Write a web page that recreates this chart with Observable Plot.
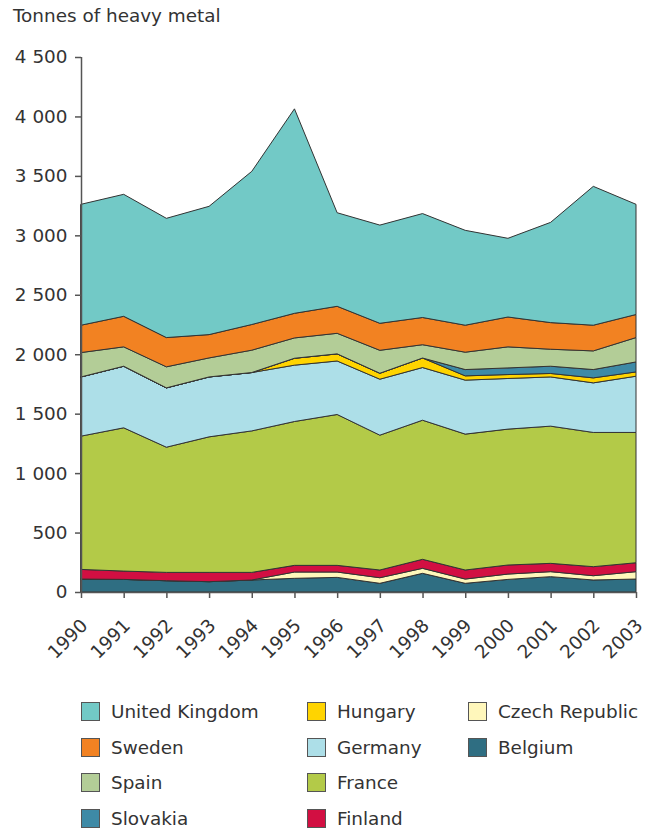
<!DOCTYPE html>
<html>
<head>
<meta charset="utf-8">
<script src="https://cdn.jsdelivr.net/npm/d3@7"></script>
<script src="https://cdn.jsdelivr.net/npm/@observablehq/plot@0.6"></script>
<style>
  body { margin: 0; background: #fff; font-family: "DejaVu Sans", Verdana, sans-serif; color: #333; }
  #wrap { position: relative; width: 648px; height: 831px; }
  #title { position: absolute; left: 13px; top: 5px; font-size: 18.4px; color: #333; white-space: nowrap; }
  #chart { position: absolute; left: 0; top: 0; }
  #legend { position: absolute; left: 0; top: 0; width: 648px; }
  .item { position: absolute; display: flex; align-items: center; font-size: 18.4px; color: #333; white-space: nowrap; }
  .sw { border: 1px solid #555; box-sizing: border-box; margin-right: 11px; width: 19px; height: 19px; }
</style>
</head>
<body>
<div id="wrap">
  <div id="chart"></div>
  <div id="title">Tonnes of heavy metal</div>
  <div id="legend"></div>
</div>
<script>
const years = [1990,1991,1992,1993,1994,1995,1996,1997,1998,1999,2000,2001,2002,2003];

// Stack order, bottom to top
const countries = ["Belgium","Czech Republic","Finland","France","Germany","Hungary","Slovakia","Spain","Sweden","United Kingdom"];

const belgium  = [109,106,95,87,101,115,123,73,157,73,106,129,101,109];
const czech    = [0,0,0,0,0,53,45,47,42,36,45,42,36,62];
const finland  = [81,70,70,78,64,56,56,65,76,76,76,70,76,75];
const france   = [1121,1205,1053,1140,1190,1210,1269,1134,1170,1143,1143,1154,1129,1096];
const germany  = [498,518,499,504,491,474,450,471,443,454,426,414,417,473];
const hungary  = [0,0,0,0,0,58,60,50,80,36,33,29,42,36];
const slovakia = [0,0,0,0,0,0,0,0,0,53,56,61,70,84];
const spain    = [205,163,177,160,188,171,173,193,112,146,177,143,157,205];
const sweden   = [230,257,246,196,216,207,227,227,229,227,251,224,216,194];
const uk       = [1017,1026,1003,1079,1288,1720,787,826,874,798,662,843,1168,927];

const seriesValues = [belgium, czech, finland, france, germany, hungary, slovakia, spain, sweden, uk];

const colors = ["#2f6e82","#fff7bb","#d20f42","#b3ca48","#addfe8","#ffd400","#3e8aa6","#b3cd97","#f28222","#72c9c6"];

// Legend order (column-wise)
const legendOrder = ["United Kingdom","Sweden","Spain","Slovakia","Hungary","Germany","France","Finland","Czech Republic","Belgium"];

const yTicks = [0,500,1000,1500,2000,2500,3000,3500,4000,4500];

const data = countries.flatMap((c, i) => years.map((yr, j) => ({country: c, year: yr, value: seriesValues[i][j]})));

const fmt = d => d3.format(",")(d).replace(/,/g, " ");

const chart = Plot.plot({
  width: 648,
  height: 690,
  marginLeft: 81,
  marginRight: 12,
  marginTop: 57,
  marginBottom: 98,
  style: { fontFamily: "DejaVu Sans, Verdana, sans-serif", fontSize: "18.4px", color: "#333", background: "transparent" },
  x: { domain: [1990, 2003] },
  y: { domain: [0, 4500] },
  color: { domain: countries, range: colors },
  marks: [
    Plot.areaY(data, {
      x: "year", y: "value", z: "country", fill: "country",
      order: countries,
      stroke: "#333", strokeWidth: 1, strokeLinejoin: "round"
    }),
    Plot.ruleX([1990], { stroke: "#555", strokeWidth: 1.5 }),
    Plot.ruleY([0], { stroke: "#555", strokeWidth: 1.5 }),
    Plot.axisY({ ticks: yTicks, tickFormat: fmt, tickSize: 6, tickPadding: 8, label: null, stroke: "#555", strokeWidth: 1.5 }),
    Plot.axisX({ ticks: years, tickSize: 6, text: null, label: null, stroke: "#555", strokeWidth: 1.5 }),
    Plot.axisX({ ticks: years, tickFormat: d => String(d), tickSize: 0, tickPadding: 23, dx: 3, dy: 7, tickRotate: -45, label: null })
  ]
});
document.getElementById("chart").appendChild(chart);

// Legend
const colX = [81, 307, 468];
const rowY = [702, 737.5, 773, 808.5];
const legend = document.getElementById("legend");
legendOrder.forEach((name, k) => {
  const col = Math.floor(k / 4), row = k % 4;
  const div = document.createElement("div");
  div.className = "item";
  div.style.left = colX[col] + "px";
  div.style.top = rowY[row] + "px";
  div.style.height = "19px";
  const sw = document.createElement("span");
  sw.className = "sw";
  sw.style.background = colors[countries.indexOf(name)];
  const label = document.createElement("span");
  label.textContent = name;
  div.appendChild(sw);
  div.appendChild(label);
  legend.appendChild(div);
});
</script>
</body>
</html>
